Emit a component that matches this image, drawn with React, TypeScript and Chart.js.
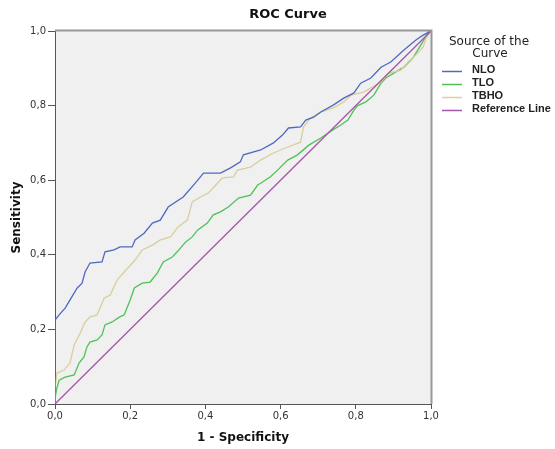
import { useEffect, useRef } from 'react';
import { Chart, registerables } from 'chart.js';

Chart.register(...registerables);

const tickLabels = ['0,0', '0,2', '0,4', '0,6', '0,8', '1,0'];
const seriesNames = ['NLO', 'TLO', 'TBHO', 'Reference Line'];
const seriesColors = ['#5068c2', '#4ec257', '#d8cf9c', '#a457a8'];

const nloX = [0, 0, 0.011, 0.027, 0.04, 0.059, 0.072, 0.08, 0.093, 0.125, 0.133, 0.157, 0.173, 0.205, 0.213, 0.237, 0.259, 0.28, 0.301, 0.341, 0.373, 0.395, 0.44, 0.467, 0.493, 0.501, 0.547, 0.581, 0.605, 0.621, 0.653, 0.667, 0.688, 0.707, 0.741, 0.768, 0.795, 0.813, 0.84, 0.867, 0.893, 0.928, 0.96, 0.979, 1];
const nloY = [0, 0.225, 0.239, 0.257, 0.279, 0.311, 0.324, 0.354, 0.378, 0.381, 0.408, 0.413, 0.421, 0.421, 0.44, 0.458, 0.485, 0.493, 0.528, 0.555, 0.592, 0.619, 0.619, 0.633, 0.649, 0.668, 0.681, 0.7, 0.721, 0.74, 0.743, 0.761, 0.769, 0.783, 0.802, 0.82, 0.834, 0.86, 0.874, 0.903, 0.917, 0.949, 0.976, 0.989, 1];

const tloX = [0, 0, 0.005, 0.011, 0.027, 0.051, 0.064, 0.077, 0.085, 0.093, 0.112, 0.125, 0.133, 0.152, 0.171, 0.184, 0.2, 0.211, 0.232, 0.253, 0.272, 0.288, 0.312, 0.325, 0.347, 0.365, 0.379, 0.405, 0.421, 0.44, 0.461, 0.488, 0.52, 0.539, 0.547, 0.573, 0.592, 0.619, 0.645, 0.675, 0.707, 0.739, 0.76, 0.779, 0.795, 0.805, 0.827, 0.848, 0.867, 0.88, 0.901, 0.928, 0.952, 0.968, 0.981, 0.992, 1];
const tloY = [0, 0.016, 0.043, 0.064, 0.072, 0.078, 0.11, 0.126, 0.153, 0.166, 0.172, 0.185, 0.212, 0.22, 0.233, 0.239, 0.279, 0.311, 0.324, 0.327, 0.351, 0.381, 0.394, 0.408, 0.434, 0.448, 0.466, 0.485, 0.507, 0.515, 0.528, 0.552, 0.56, 0.587, 0.592, 0.609, 0.627, 0.654, 0.668, 0.694, 0.713, 0.735, 0.748, 0.761, 0.788, 0.8, 0.81, 0.828, 0.86, 0.874, 0.887, 0.903, 0.928, 0.954, 0.976, 0.997, 1];

const tbhoX = [0, 0, 0.005, 0.024, 0.04, 0.051, 0.067, 0.08, 0.093, 0.112, 0.131, 0.147, 0.165, 0.184, 0.213, 0.232, 0.259, 0.28, 0.307, 0.328, 0.352, 0.365, 0.387, 0.408, 0.445, 0.475, 0.485, 0.52, 0.547, 0.581, 0.619, 0.653, 0.661, 0.68, 0.707, 0.741, 0.768, 0.787, 0.821, 0.867, 0.888, 0.92, 0.939, 0.96, 0.979, 0.987, 1];
const tbhoY = [0, 0.043, 0.083, 0.091, 0.11, 0.158, 0.19, 0.22, 0.233, 0.239, 0.284, 0.292, 0.332, 0.354, 0.386, 0.413, 0.426, 0.44, 0.448, 0.475, 0.493, 0.542, 0.555, 0.566, 0.606, 0.609, 0.627, 0.635, 0.654, 0.673, 0.689, 0.702, 0.743, 0.767, 0.783, 0.794, 0.81, 0.828, 0.836, 0.863, 0.887, 0.895, 0.917, 0.936, 0.957, 0.981, 1];

const refX = [0, 1];
const refY = [0, 1];

const toPoints = (xs: number[], ys: number[]) => xs.map((x, i) => ({ x, y: ys[i] }));

const decorPlugin = {
  id: 'decor',
  beforeDraw(chart: any) {
    const { ctx, chartArea: a } = chart;
    ctx.save();
    ctx.fillStyle = '#f0f0f0';
    ctx.fillRect(a.left, a.top, a.right - a.left, a.bottom - a.top);
    ctx.restore();
  },
  afterDraw(chart: any) {
    const { ctx, chartArea: a } = chart;
    ctx.save();
    ctx.strokeStyle = '#999999';
    ctx.lineWidth = 2;
    ctx.beginPath();
    ctx.moveTo(a.left, a.top - 0.5);
    ctx.lineTo(a.right + 0.5, a.top - 0.5);
    ctx.lineTo(a.right + 0.5, a.bottom);
    ctx.stroke();

    ctx.fillStyle = '#111';
    ctx.textAlign = 'center';
    ctx.textBaseline = 'middle';
    ctx.font = 'bold 13px "DejaVu Sans"';
    ctx.fillText('ROC Curve', 288, 15);

    ctx.fillStyle = '#222';
    ctx.font = '12px "DejaVu Sans"';
    ctx.fillText('Source of the', 489, 42);
    ctx.fillText('Curve', 490, 54);

    const ys = [70, 83, 96, 109];
    ctx.textAlign = 'left';
    ctx.font = 'bold 11px "Liberation Sans"';
    seriesNames.forEach((name, i) => {
      ctx.strokeStyle = seriesColors[i];
      ctx.lineWidth = 1.5;
      ctx.beginPath();
      ctx.moveTo(442, ys[i] + 1.5);
      ctx.lineTo(462, ys[i] + 1.5);
      ctx.stroke();
      ctx.fillStyle = '#222';
      ctx.fillText(name, 472, ys[i]);
    });
    ctx.restore();
  },
};

export default function App() {
  const ref = useRef<HTMLCanvasElement | null>(null);
  useEffect(() => {
    if (!ref.current) return;
    const tickCb = (v: any) => tickLabels[Math.round(Number(v) / 0.2)] ?? '';
    const tickFont = { family: '"DejaVu Sans"', size: 10 };
    const titleFont = { family: '"DejaVu Sans"', size: 12, weight: 'bold' as const, lineHeight: 1.2 };
    const mk = (label: string, xs: number[], ys: number[], color: string) => ({
      label,
      data: toPoints(xs, ys),
      borderColor: color,
      backgroundColor: color,
      borderWidth: 1.3,
      pointRadius: 0,
      fill: false,
      tension: 0,
    });
    const chart = new Chart(ref.current, {
      type: 'line',
      data: {
        datasets: [
          mk(seriesNames[3], refX, refY, seriesColors[3]),
          mk(seriesNames[0], nloX, nloY, seriesColors[0]),
          mk(seriesNames[2], tbhoX, tbhoY, seriesColors[2]),
          mk(seriesNames[1], tloX, tloY, seriesColors[1]),
        ],
      },
      options: {
        responsive: false,
        animation: false,
        parsing: false as any,
        layout: { padding: { top: 31, right: 124, left: 0, bottom: 0 } },
        plugins: { legend: { display: false }, title: { display: false }, tooltip: { enabled: false } },
        scales: {
          x: {
            type: 'linear',
            min: 0,
            max: 1,
            ticks: { stepSize: 0.2, callback: tickCb, font: tickFont, color: '#333', padding: 1, maxRotation: 0 },
            grid: { drawOnChartArea: false, tickLength: 5, color: '#555' },
            border: { color: '#555', width: 1 },
            title: { display: true, text: '1 - Specificity', font: titleFont, color: '#111', padding: { top: 0, bottom: 4 } },
            afterFit: (s: any) => { s.height = 45; },
          },
          y: {
            type: 'linear',
            min: 0,
            max: 1,
            ticks: { stepSize: 0.2, callback: tickCb, font: tickFont, color: '#333', padding: 2 },
            grid: { drawOnChartArea: false, tickLength: 7, color: '#555' },
            border: { color: '#555', width: 1 },
            title: { display: true, text: 'Sensitivity', font: titleFont, color: '#111', padding: { top: 10, bottom: 0 } },
            afterFit: (s: any) => { s.width = 55; },
          },
        },
      },
      plugins: [decorPlugin],
    });
    return () => chart.destroy();
  }, []);
  return (
    <div style={{ position: 'fixed', left: 0, top: 0, width: 555, height: 449, background: '#fff' }}>
      <canvas ref={ref} width={555} height={449} style={{ display: 'block' }} />
    </div>
  );
}
